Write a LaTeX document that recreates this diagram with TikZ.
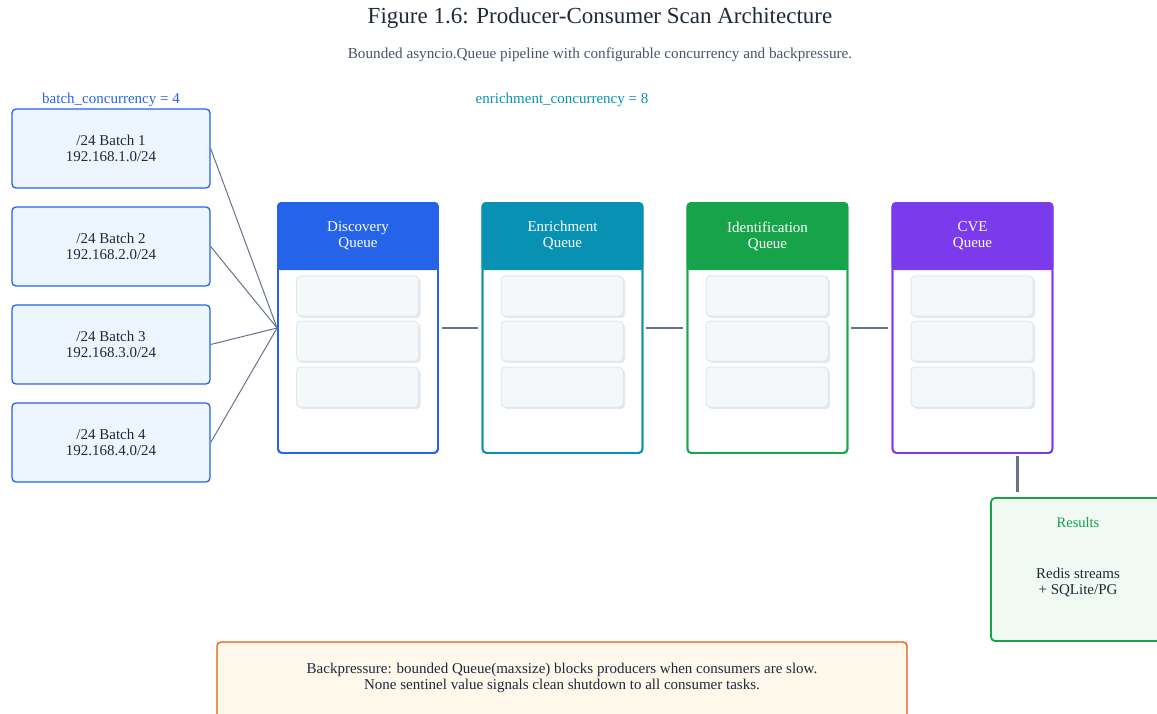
\documentclass[tikz,border=0pt]{standalone}
\usepackage{fontspec}
\setmainfont{Liberation Serif}
\usetikzlibrary{calc}

\definecolor{ink}{HTML}{1E293B}
\definecolor{subtle}{HTML}{475569}
\definecolor{wire}{HTML}{64748B}
\definecolor{cblue}{HTML}{2563EB}
\definecolor{cbluefill}{HTML}{EDF5FF}
\definecolor{cteal}{HTML}{0891B2}
\definecolor{cgreen}{HTML}{16A34A}
\definecolor{cgreenfill}{HTML}{F0FAF2}
\definecolor{cviolet}{HTML}{7C3AED}
\definecolor{corange}{HTML}{EA580C}
\definecolor{corangefill}{HTML}{FFF8EB}
\definecolor{slotfill}{HTML}{F4F8F9}
\definecolor{slotline}{HTML}{E2E8F0}

\tikzset{
  txt/.style={font=\fontsize{15}{16}\selectfont, text=ink, align=center},
  batchbox/.style={draw=cblue, line width=1.3pt, fill=cbluefill, rounded corners=4pt,
    minimum width=198pt, minimum height=79pt, txt},
  queuebox/.style={draw=#1, line width=1.8pt, rounded corners=4pt,
    minimum width=160pt, minimum height=250pt},
  qhead/.style={text=white, font=\fontsize{15}{16}\selectfont, align=center},
  slot/.style={draw=slotline, line width=1pt, fill=slotfill, rounded corners=4pt,
    minimum width=122pt, minimum height=40pt},
  slotshadow/.style={fill=slotline, rounded corners=4pt,
    minimum width=122pt, minimum height=40pt},
  fan/.style={draw=wire, line width=1pt},
  link/.style={draw=wire, line width=2.4pt},
}

\begin{document}
\begin{tikzpicture}[x=1pt, y=-1pt]
\useasboundingbox (0,0) rectangle (1157,714);
\clip (0,0) rectangle (1157,714);

% headings
\node[font=\fontsize{23}{25}\selectfont, text=ink] (title) at (600,18)
  {Figure 1.6: Producer-Consumer Scan Architecture};
\node[font=\fontsize{15.2}{17}\selectfont, text=subtle] (subtitle) at (600,55)
  {Bounded asyncio.Queue pipeline with configurable concurrency and backpressure.};
\node[font=\fontsize{15}{16}\selectfont, text=cblue] (bconc) at (111,100)
  {batch\_concurrency = 4};
\node[font=\fontsize{15}{16}\selectfont, text=cteal] (econc) at (562,100)
  {enrichment\_concurrency = 8};

% producer batches
\node[batchbox] (b1) at (111,148.5) {/24 Batch 1\\192.168.1.0/24};
\node[batchbox] (b2) at (111,246.5) {/24 Batch 2\\192.168.2.0/24};
\node[batchbox] (b3) at (111,344.5) {/24 Batch 3\\192.168.3.0/24};
\node[batchbox] (b4) at (111,442.5) {/24 Batch 4\\192.168.4.0/24};

% queues
\foreach \name/\cx/\col/\label in {
    q1/358/cblue/{Discovery\\Queue},
    q2/562.5/cteal/{Enrichment\\Queue},
    q3/767.5/cgreen/{Identification\\Queue},
    q4/972.5/cviolet/{CVE\\Queue}} {
  \node[queuebox=\col, fill=white] (\name) at (\cx,328) {};
  \begin{scope}
    \clip[rounded corners=4pt] (\name.north west) rectangle (\name.south east);
    \fill[\col, rounded corners=3pt] ($(\name.north west)+(0,-6)$) rectangle ($(\name.north east)+(0,68)$);
  \end{scope}
  \node[queuebox=\col] at (\cx,328) {};
  \node[qhead] (\name-head) at (\cx,236) {\label};
  \foreach \k/\sy in {1/296, 2/341, 3/387} {
    \node[slotshadow] at ($(\cx-0.5,\sy)+(2,2)$) {};
    \node[slot] (\name-s\k) at (\cx-0.5,\sy) {};
  }
}

% fan-in from the batches
\foreach \b in {b1,b2,b3,b4}
  \draw[fan] (\b.east) -- (q1.west);

% queue-to-queue links
\draw[link] ($(q1.east)+(3,0)$) -- ($(q2.west)+(-4,0)$);
\draw[link] ($(q2.east)+(3,0)$) -- ($(q3.west)+(-4,0)$);
\draw[link] ($(q3.east)+(3,0)$) -- ($(q4.west)+(-4,0)$);

% results sink
\node[draw=cgreen, line width=1.8pt, fill=cgreenfill, rounded corners=4pt,
  minimum width=176pt, minimum height=143pt] (res) at (1079,569.5) {};
\node[font=\fontsize{14.5}{15}\selectfont, text=cgreen] (restitle) at (1078,523) {Results};
\node[txt] (resbody) at (1078,583) {Redis streams\\+ SQLite/PG};
\coordinate (outtap) at ($(q4.south)+(45,2)$);
\draw[link] (outtap) -- ($(outtap |- res.north)+(0,-5)$);

% backpressure note
\node[draw=corange, line width=1.3pt, fill=corangefill, rounded corners=4pt,
  minimum width=690pt, minimum height=90pt] (note) at (562,687) {};
\node[txt] (notetext) at (562,678)
  {Backpressure: bounded Queue(maxsize) blocks producers when consumers are slow.\\
   None sentinel value signals clean shutdown to all consumer tasks.};
\end{tikzpicture}
\end{document}
